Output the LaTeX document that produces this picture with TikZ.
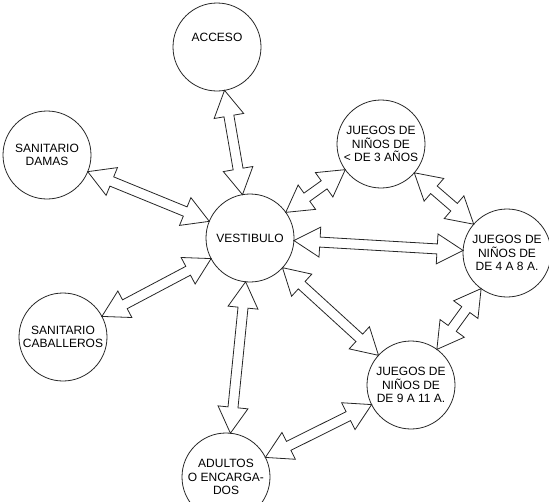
\documentclass[tikz,border=0pt]{standalone}
\usepackage{fontspec}
\setmainfont{Liberation Sans}
\usepackage{tikz}
\usetikzlibrary{calc, positioning}

\newcommand{\hubradius}{44pt}
\newcommand{\headlen}{26pt}
\newcommand{\headwide}{15pt}
\newcommand{\shaftwide}{5pt}

\begin{document}
\begin{tikzpicture}[x=1pt, y=-1pt,
    every node/.style={font=\fontsize{12}{13.5}\selectfont},
    hub/.style={circle, draw=black!85, line width=0.8pt, minimum size=88pt, inner sep=0pt, align=center},
    twoway/.style={draw=black!85, line width=0.8pt, line join=miter, to path={
        let \p1=($(\tikztostart)!\hubradius!(\tikztotarget)$),
            \p2=($(\tikztotarget)!\hubradius!(\tikztostart)$) in
        (\p1) -- ($(\p1)!\headlen!(\p2)!\headwide!90:(\p2)$)
              -- ($(\p1)!\headlen!(\p2)!\shaftwide!90:(\p2)$)
              -- ($(\p2)!\headlen!(\p1)!\shaftwide!-90:(\p1)$)
              -- ($(\p2)!\headlen!(\p1)!\headwide!-90:(\p1)$)
              -- (\p2)
              -- ($(\p2)!\headlen!(\p1)!\headwide!90:(\p1)$)
              -- ($(\p2)!\headlen!(\p1)!\shaftwide!90:(\p1)$)
              -- ($(\p1)!\headlen!(\p2)!\shaftwide!-90:(\p2)$)
              -- ($(\p1)!\headlen!(\p2)!\headwide!-90:(\p2)$)
              -- cycle}}]
    \useasboundingbox (0,0) rectangle (549,501);

    \node[hub] (vest) at (250,238) {VESTIBULO};
    \node[hub] (acc) at (217,47) {ACCESO\\[6pt]};
    \node[hub] (damas) at (47,155) {SANITARIO\\DAMAS};
    \node[hub] (cab) at (63,337) {SANITARIO\\CABALLEROS};
    \node[hub] (ninos3) at (381,144) {JUEGOS DE\\NIÑOS DE\\< DE 3 AÑOS};
    \node[hub] (ninos48) at (507,253) {JUEGOS DE\\NIÑOS DE\\DE 4 A 8 A.};
    \node[hub] (ninos911) at (411,385) {JUEGOS DE\\NIÑOS DE\\DE 9 A 11 A.};
    \node[hub] (adul) at (226,477) {ADULTOS\\O ENCARGA-\\DOS};

    \path (acc) edge[twoway] (vest)
          (damas) edge[twoway] (vest)
          (cab) edge[twoway] (vest)
          (vest) edge[twoway] (ninos3)
          (vest) edge[twoway] (ninos48)
          (vest) edge[twoway] (ninos911)
          (vest) edge[twoway] (adul)
          (ninos3) edge[twoway] (ninos48)
          (ninos48) edge[twoway] (ninos911)
          (adul) edge[twoway] (ninos911);
\end{tikzpicture}
\end{document}
